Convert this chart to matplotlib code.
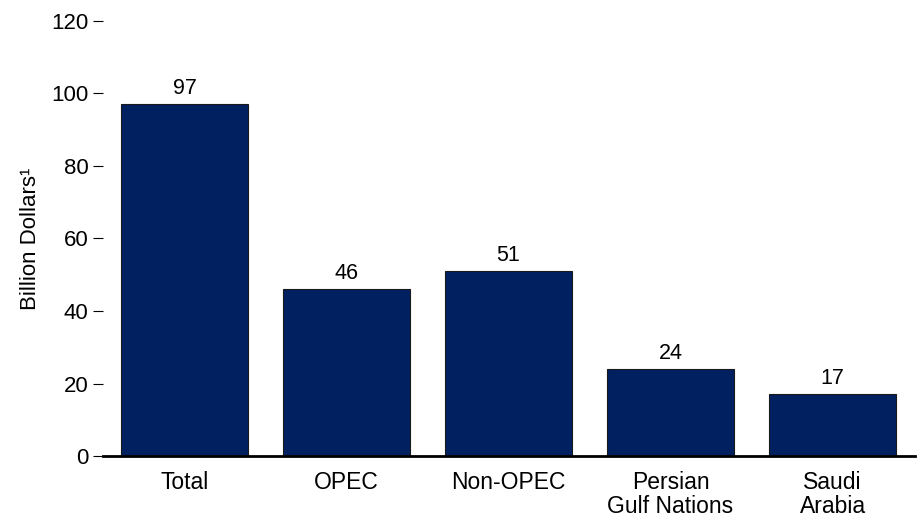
import matplotlib.pyplot as plt
import numpy as np

plt.rcParams['font.family'] = ['Liberation Sans', 'DejaVu Sans']

categories = ['Total', 'OPEC', 'Non-OPEC', 'Persian\nGulf Nations', 'Saudi\nArabia']
values = [97, 46, 51, 24, 17]
yticks = [0, 20, 40, 60, 80, 100, 120]

fig = plt.figure(figsize=(9.21, 5.25), dpi=100)
# axes box in pixels: x 103..915, y 21..456
ax = fig.add_axes([103 / 921, (525 - 456) / 525, (915 - 103) / 921, (456 - 21) / 525])

x = np.arange(len(categories))
bars = ax.bar(x, values, width=0.784, color='#002060', edgecolor='#1a1a1a', linewidth=0.8)

for b, v in zip(bars, values):
    ax.text(b.get_x() + b.get_width() / 2, v + 1.4, str(v),
            ha='center', va='bottom', fontsize=15.5, color='black')

ax.set_xlim(-0.503, 4.509)
ax.set_ylim(0, 120)
ax.set_yticks(yticks)
ax.set_xticks(x)
ax.set_xticklabels(categories, fontsize=16.5, linespacing=1.05)
ax.tick_params(axis='x', length=0, pad=11)
ax.tick_params(axis='y', direction='out', length=7.5, width=0.8, pad=3, labelsize=16)

for s in ['top', 'right', 'left']:
    ax.spines[s].set_visible(False)
ax.spines['bottom'].set_linewidth(2)

ax.set_ylabel('Billion Dollars\u00b9', fontsize=16, labelpad=7)

fig.savefig('out.png', dpi=100)
